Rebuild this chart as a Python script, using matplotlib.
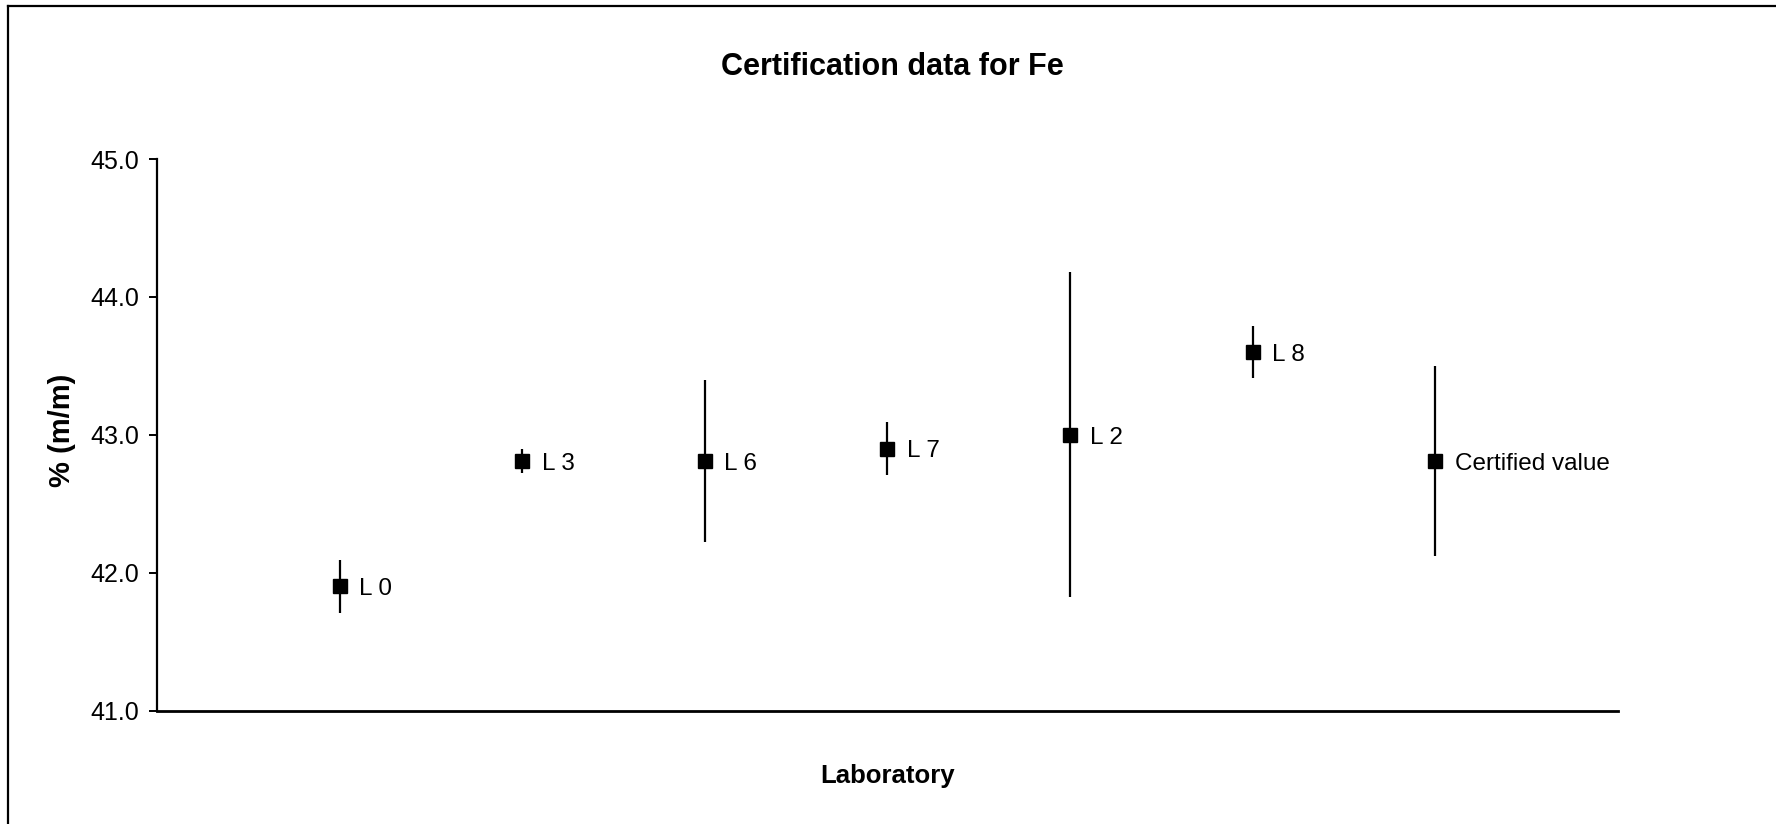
import matplotlib
matplotlib.use("Agg")
import matplotlib.pyplot as plt
from matplotlib.lines import Line2D

# data
labs = ['L 0', 'L 3', 'L 6', 'L 7', 'L 2', 'L 8', 'Certified value']
means = [41.90, 42.81, 42.81, 42.90, 43.00, 43.60, 42.81]
uncert = [0.19, 0.09, 0.59, 0.19, 1.18, 0.19, 0.69]
yticks = [41.0, 42.0, 43.0, 44.0, 45.0]

plt.rcParams['font.family'] = ['Liberation Sans', 'DejaVu Sans']

fig = plt.figure(figsize=(17.76, 8.24), dpi=100)
ax = fig.add_axes([0.0884, 0.1377, 0.8226, 0.6693])

x = list(range(1, len(means) + 1))
ax.errorbar(x, means, yerr=uncert, fmt='s', color='black', ms=9.5,
            elinewidth=1.6, capsize=0, mec='black', mfc='black')

for xi, yi, lab in zip(x, means, labs):
    ax.annotate(lab, (xi, yi), xytext=(14, -2), textcoords='offset points',
                ha='left', va='center', fontsize=17.5)

ax.set_xlim(0, 8)
ax.set_ylim(41, 45)
ax.set_yticks(yticks)
ax.set_yticklabels([f'{v:.1f}' for v in yticks])
ax.set_xticks([])
ax.tick_params(axis='y', direction='out', length=6, width=1.4, labelsize=18, pad=7)

for s in ['top', 'right']:
    ax.spines[s].set_visible(False)
ax.spines['left'].set_linewidth(1.6)
ax.spines['bottom'].set_linewidth(2.0)

fig.text(0.5023, 0.9187, 'Certification data for Fe', ha='center', va='center',
         fontsize=22, fontweight='bold')
fig.text(0.4997, 0.0583, 'Laboratory', ha='center', va='center',
         fontsize=18.5, fontweight='bold')
fig.text(0.0349, 0.478, '% (m/m)', ha='center', va='center', rotation=90,
         fontsize=21, fontweight='bold')

# chart frame (only top and left edges show in the original)
fig.add_artist(Line2D([8 / 1776, 8 / 1776], [0, 1 - 6 / 824], color='black', lw=1.6,
                      transform=fig.transFigure))
fig.add_artist(Line2D([8 / 1776, 1], [1 - 6 / 824, 1 - 6 / 824], color='black', lw=1.6,
                      transform=fig.transFigure))

fig.savefig('out.png', dpi=100)
